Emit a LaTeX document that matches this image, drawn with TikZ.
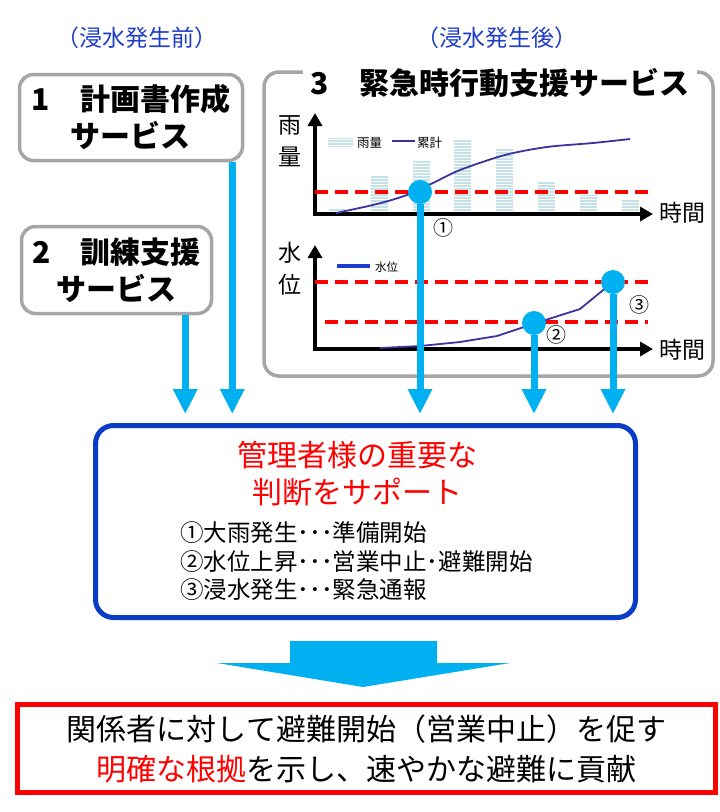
\documentclass[tikz,border=0pt]{standalone}
\usepackage{fontspec}
\setmainfont{Noto Sans CJK JP}
\usetikzlibrary{arrows.meta,patterns}

\definecolor{skyc}{RGB}{0,176,240}
\definecolor{navyc}{RGB}{10,60,200}
\definecolor{headc}{RGB}{30,60,200}
\definecolor{grayc}{RGB}{166,166,166}
\definecolor{sumc}{RGB}{60,50,160}
\definecolor{barc}{RGB}{196,226,230}
\definecolor{levc}{RGB}{25,60,210}

\newcommand{\jfs}[2]{\fontsize{#1}{#2}\selectfont}

\begin{document}
\begin{tikzpicture}[x=1pt, y=-1pt,
    svcbox/.style={draw=grayc, line width=3.5pt, rounded corners=14pt, fill=white, align=center, font=\jfs{30}{37}\bfseries},
    flow/.style={draw=skyc, line width=7pt, -{Triangle[width=23pt,length=25pt]}},
    axis/.style={line width=3.5pt, -{Triangle[width=14pt,length=13pt]}},
    level/.style={red, line width=4pt, dash pattern=on 13pt off 7pt},
    dot/.style={circle, fill=skyc, minimum size=24pt, inner sep=0pt},
    bar/.style={fill=barc, postaction={pattern=horizontal lines, pattern color=white}},
    tag/.style={font=\jfs{20}{24}},
    axlbl/.style={font=\jfs{23}{32}, align=center}]

    \useasboundingbox (0,0) rectangle (720,812);

    % headings
    \node[text=headc, font=\jfs{23}{27}] (pre) at (137,38) {（浸水発生前）};
    \node[text=headc, font=\jfs{23}{27}] (post) at (497,38) {（浸水発生後）};

    % services 1 and 2
    \node[svcbox, minimum width=223pt, minimum height=86pt] (plan) at (131,117.5) {1　計画書作成\\サービス};
    \node[svcbox, minimum width=190pt, minimum height=87pt] (drill) at (116.5,270) {2　訓練支援\\サービス};

    % service 3
    \node[draw=grayc, line width=3.5pt, rounded corners=15pt, minimum width=449pt, minimum height=304pt] (emerg) at (488.5,224) {};
    \node[fill=white, inner xsep=8pt, font=\jfs{30}{37}\bfseries] (emtitle) at (500,83) {3　緊急時行動支援サービス};

    % rain chart
    \foreach \x/\top in {337.5/208, 379/176, 421/160, 462.5/140, 504.5/148, 546.5/181, 588.5/195, 630.5/199}
        \fill[bar] (\x-8.5,214) rectangle (\x+8.5,\top);
    \fill[bar] (328,138) rectangle (353,147);
    \node[anchor=west, inner sep=0pt, font=\jfs{12.5}{14}] (rainkey) at (357,142.5) {雨量};
    \draw[sumc, line width=1.8pt] (392,141) -- (415,141);
    \node[anchor=west, inner sep=0pt, font=\jfs{12.5}{14}] (sumkey) at (417,142.5) {累計};
    \draw[axis] (313.25,214) -- (653,214);
    \draw[axis] (315,215.75) -- (315,113);
    \draw[sumc, line width=1.8pt] plot[smooth] coordinates {(336,213) (377,204) (407,195) (433,183) (460,170) (505,155) (547,147) (593,143) (630,139)};
    \draw[level] (315,192) -- (653,192);
    \node[axlbl] (rainlbl) at (290,141.5) {雨\\量};
    \node[axlbl] (time1) at (682,213) {時間};

    % water level chart
    \draw[levc, line width=3.5pt] (337,266) -- (370,266);
    \node[anchor=west, inner sep=0pt, font=\jfs{11.5}{14}] (levkey) at (375,267) {水位};
    \draw[axis] (313.25,349) -- (653,349);
    \draw[axis] (315,350.75) -- (315,245);
    \draw[level] (315,282) -- (653,282);
    \draw[level] (325,322) -- (648,322);
    \draw[sumc, line width=1.8pt] (380,348) -- (420,346) -- (460,342) -- (497,336) -- (533,324) -- (580,309) -- (613,282);
    \node[axlbl] (levlbl) at (290,269) {水\\位};
    \node[axlbl] (time2) at (682,350) {時間};

    % trigger points
    \node[dot] (m1) at (420,192) {};
    \node[dot] (m2) at (534,323) {};
    \node[dot] (m3) at (613,282) {};
    \node[tag] (n1) at (443,228) {①};
    \node[tag] (n2) at (556,335) {②};
    \node[tag] (n3) at (639,305) {③};

    % decision support box
    \node[draw=navyc, line width=5pt, rounded corners=18pt, minimum width=540pt, minimum height=192pt] (judge) at (365.5,521.5) {};
    \node[red, font=\jfs{30}{37}, align=center] (judgetxt) at (357,473.5) {管理者様の重要な\\判断をサポート};
    \node[anchor=west, inner sep=0pt, align=left, font=\jfs{23.5}{28.5}] (steps) at (180,561.5) {①大雨発生･･･準備開始\\②水位上昇･･･営業中止･避難開始\\③浸水発生･･･緊急通報};

    % arrows into the box
    \coordinate (s1) at ([xshift=-12pt]plan.south east);
    \coordinate (s2) at ([xshift=-28pt]drill.south east);
    \draw[flow] (s2) -- ([yshift=9pt]s2 |- judge.north);
    \draw[flow] (s1) -- ([yshift=9pt]s1 |- judge.north);
    \draw[flow] (m1.south) -- ([yshift=9pt]m1 |- judge.north);
    \draw[flow] (m2.south) -- ([yshift=9pt]m2 |- judge.north);
    \draw[flow] (m3.south) -- ([yshift=9pt]m3 |- judge.north);

    % big arrow and outcome
    \fill[skyc] (290,641) -- (437,641) -- (437,663) -- (510,663) -- (363,687) -- (217,663) -- (290,663) -- cycle;
    \node[draw=red, line width=5pt, minimum width=698pt, minimum height=88pt, align=center, font=\jfs{30}{40}] (result) at (366.5,748.5) {関係者に対して避難開始（営業中止）を促す\\{\color{red}明確な根拠}を示し、速やかな避難に貢献};
\end{tikzpicture}
\end{document}
